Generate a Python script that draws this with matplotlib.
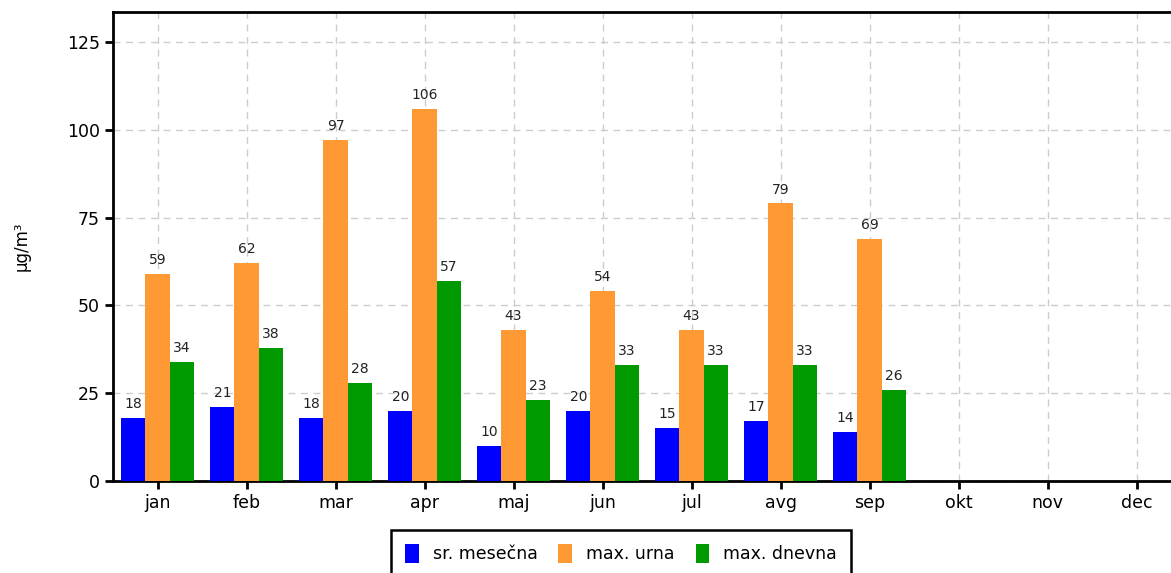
import numpy as np
import matplotlib.pyplot as plt

months = ['jan', 'feb', 'mar', 'apr', 'maj', 'jun', 'jul', 'avg', 'sep', 'okt', 'nov', 'dec']
sr_mesecna = [18, 21, 18, 20, 10, 20, 15, 17, 14]
max_urna = [59, 62, 97, 106, 43, 54, 43, 79, 69]
max_dnevna = [34, 38, 28, 57, 23, 33, 33, 33, 26]

series = [('sr. mesečna', sr_mesecna, '#0000ff'),
          ('max. urna', max_urna, '#ff9933'),
          ('max. dnevna', max_dnevna, '#009900')]

fig = plt.figure(figsize=(11.71, 5.73), dpi=100)
ax = fig.add_axes([113/1171, 1-481/573, 1068/1171, (481-12)/573])

x = np.arange(len(sr_mesecna))
w = 0.27
for i, (name, vals, col) in enumerate(series):
  bars = ax.bar(x + (i-1)*w, vals, w, color=col, label=name, zorder=3)
  ax.bar_label(bars, padding=5, fontsize=10, color='#222222')

ax.set_xlim(-0.5, 11.5)
ax.set_ylim(0, 133.5)
ax.set_xticks(range(len(months)))
ax.set_xticklabels(months)
ax.set_yticks([0, 25, 50, 75, 100, 125])
ax.tick_params(axis='both', labelsize=12.5, width=2, length=6, direction='out', colors='black')
ax.grid(True, color='#cccccc', linestyle=(0, (5, 4)), linewidth=1, zorder=0)
for s in ax.spines.values():
  s.set_linewidth(2)
ax.set_ylabel('μg/m³', fontsize=12, labelpad=26)

leg = ax.legend(loc='upper center', bbox_to_anchor=(621/1171, 1-530/573),
                bbox_transform=fig.transFigure, ncol=3, fontsize=12.5,
                frameon=True, fancybox=False, framealpha=1, handlelength=0.8, handleheight=1.3,
                handletextpad=0.8, columnspacing=1.2, borderpad=0.8, borderaxespad=0)
leg.get_frame().set_edgecolor('black')
leg.get_frame().set_linewidth(1.8)

fig.savefig('out.png', dpi=100)
